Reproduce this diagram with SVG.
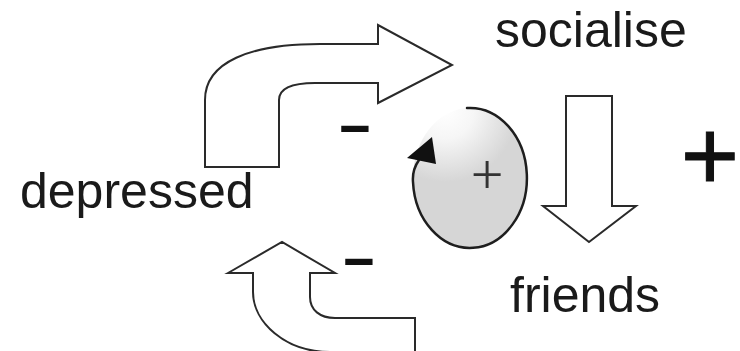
<svg xmlns="http://www.w3.org/2000/svg" width="740" height="351" viewBox="0 0 740 351">
  <defs>
    <radialGradient id="loopShade" cx="445" cy="110" r="72" gradientUnits="userSpaceOnUse">
      <stop offset="0" stop-color="#ffffff"/>
      <stop offset="0.4" stop-color="#f6f6f6"/>
      <stop offset="1" stop-color="#d6d6d6"/>
    </radialGradient>
    <style>
      .label { font-family: "Liberation Sans", Arial, sans-serif; font-size: 50px; fill: #1a1a1a; }
      .minus { font-family: "Liberation Sans", Arial, sans-serif; font-size: 80px; fill: #111; }
      .block { fill: #ffffff; stroke: #2a2a2a; stroke-width: 2; stroke-linejoin: miter; }
      .loop { fill: none; stroke: #1e1e1e; stroke-width: 2.5; stroke-linecap: round; }
    </style>
  </defs>
  <rect width="740" height="351" fill="#ffffff"/>

  <!-- block arrows linking the three states -->
  <g id="connectors">
    <!-- depressed -> socialise -->
    <path class="block" d="M205,167 L205,100 C205,62 250,44 320,44 L378,44 L378,25 L452,65 L378,103 L378,83 L315,83 C292,83 279,88 279,100 L279,167 Z"/>
    <!-- socialise -> friends -->
    <path class="block" d="M566,96 L612,96 L612,206 L636,206 L589,242 L543,206 L566,206 Z"/>
    <!-- friends -> depressed -->
    <path class="block" d="M228,273 L282,242 L335,273 L310,273 L310,297 C310,310 320,318 335,318 L415,318 L415,352 L330,352 C285,352 253,322 253,292 L253,273 Z"/>
  </g>

  <!-- reinforcing loop marker -->
  <g id="loop">
    <ellipse cx="470" cy="178" rx="57" ry="70" fill="url(#loopShade)"/>
    <path class="loop" d="M467,108 A57,70 0 1 1 413,182 Q412,170 419,160"/>
    <polygon points="407,158 432,137 436,164" fill="#111"/>
    <text x="487" y="194" text-anchor="middle" font-family="'Liberation Serif', 'Times New Roman', serif" font-size="58" fill="#333">+</text>
  </g>

  <g id="node-socialise">
    <text class="label" x="495" y="47">socialise</text>
  </g>
  <g id="node-depressed">
    <text class="label" x="20" y="208">depressed</text>
  </g>
  <g id="node-friends">
    <text class="label" x="510" y="312">friends</text>
  </g>

  <!-- polarity signs -->
  <g id="signs">
    <text class="minus" transform="translate(355,150) scale(1.4,1)" text-anchor="middle">-</text>
    <text class="minus" transform="translate(359,283) scale(1.4,1)" text-anchor="middle">-</text>
    <text x="710" y="190" text-anchor="middle" font-family="'Liberation Sans', Arial, sans-serif" font-size="100" fill="#111" stroke="#111" stroke-width="1">+</text>
  </g>
</svg>
